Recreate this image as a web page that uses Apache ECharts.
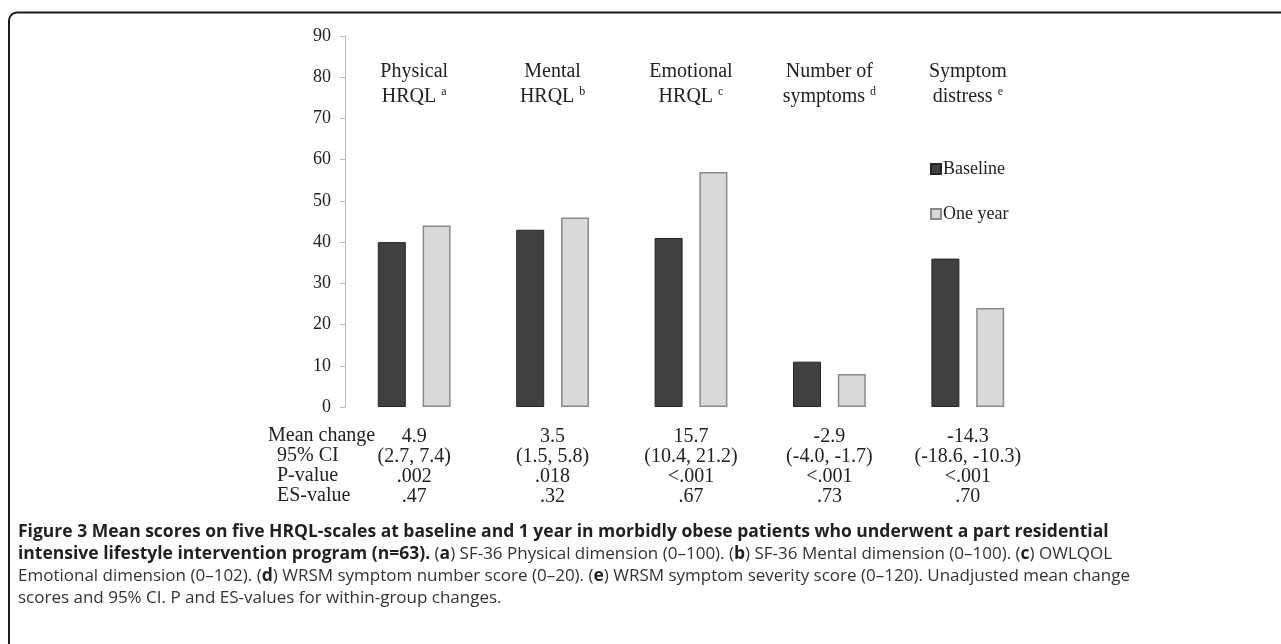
<!DOCTYPE html>
<html><head><meta charset="utf-8">
<script src="https://cdn.jsdelivr.net/npm/echarts@6/dist/echarts.min.js"></script>
<style>html,body{margin:0;padding:0;background:#fff}#c{width:1281px;height:644px}</style>
</head><body><div id="c"></div>
<script>
// ---- data ----
const categories = ['Physical HRQL', 'Mental HRQL', 'Emotional HRQL', 'Number of symptoms', 'Symptom distress'];
const categoryLine1 = ['Physical', 'Mental', 'Emotional', 'Number of', 'Symptom'];
const categoryLine2 = ['HRQL', 'HRQL', 'HRQL', 'symptoms', 'distress'];
const footnoteMarks = ['a', 'b', 'c', 'd', 'e'];
const seriesNames = ['Baseline', 'One year'];
const baseline = [40, 43, 41, 11, 36];
const oneYear = [44, 46, 57, 8, 24];
const rowHeaders = ['Mean change', '95% CI', 'P-value', 'ES-value'];
const meanChange = ['4.9', '3.5', '15.7', '-2.9', '-14.3'];
const ci95 = ['(2.7, 7.4)', '(1.5, 5.8)', '(10.4, 21.2)', '(-4.0, -1.7)', '(-18.6, -10.3)'];
const pValue = ['.002', '.018', '<.001', '<.001', '<.001'];
const esValue = ['.47', '.32', '.67', '.73', '.70'];
const yMin = 0, yMax = 90, yInterval = 10;

const serif = '"Liberation Serif", "Times New Roman", serif';
const sans = '"Open Sans", "Noto Sans", sans-serif';

const chart = echarts.init(document.getElementById('c'), null, {renderer: 'canvas'});

const capLines = [
  [['b', 'Figure 3 Mean scores on five HRQL-scales at baseline and 1 year in morbidly obese patients who underwent a part residential']],
  [['b', 'intensive lifestyle intervention program (n=63).'], ['n', ' ('], ['b', 'a'], ['n', ') SF-36 Physical dimension (0–100). ('], ['b', 'b'], ['n', ') SF-36 Mental dimension (0–100). ('], ['b', 'c'], ['n', ') OWLQOL']],
  [['n', 'Emotional dimension (0–102). ('], ['b', 'd'], ['n', ') WRSM symptom number score (0–20). ('], ['b', 'e'], ['n', ') WRSM symptom severity score (0–120). Unadjusted mean change']],
  [['n', 'scores and 95% CI. P and ES-values for within-group changes.']]
];
const capText = capLines.map(l => l.map(([s, t]) => '{' + s + '|' + t.replace(/[{}|]/g, '') + '}').join('')).join('\n');

const rowX = [268, 277, 277, 277];
const rowY = [437, 457, 477, 497];

chart.setOption({
  animation: false,
  backgroundColor: '#fff',
  grid: {left: 345, right: 244, top: 36, bottom: 237, containLabel: false},
  legend: {
    data: seriesNames,
    orient: 'vertical',
    left: 925, top: 155,
    itemWidth: 10, itemHeight: 10, itemGap: 27,
    icon: 'rect',
    textStyle: {fontFamily: serif, fontSize: 18, color: '#222', padding: [0, 0, 0, -3]}
  },
  xAxis: [{
    type: 'category',
    data: categories,
    axisLine: {show: false},
    axisTick: {show: false},
    axisLabel: {
      interval: 0,
      margin: 20,
      fontFamily: serif, fontSize: 20, color: '#222', lineHeight: 20,
      formatter: (v, i) => [meanChange[i], ci95[i], pValue[i], esValue[i]].join('\n')
    }
  }, {
    type: 'category',
    data: categories,
    position: 'top',
    offset: -77,
    axisLine: {show: false},
    axisTick: {show: false},
    axisLabel: {
      interval: 0,
      margin: 4,
      fontFamily: serif, fontSize: 20, color: '#222', lineHeight: 25,
      formatter: (v, i) => '{t|' + categoryLine1[i] + '}\n{t|' + categoryLine2[i] + ' }{s|' + footnoteMarks[i] + '}',
      rich: {
        t: {fontFamily: serif, fontSize: 20, color: '#222', lineHeight: 25},
        s: {fontFamily: serif, fontSize: 12, color: '#222', lineHeight: 25, padding: [0, 0, 9, 0]}
      }
    }
  }],
  yAxis: {
    type: 'value', min: yMin, max: yMax, interval: yInterval,
    axisLine: {show: true, lineStyle: {color: '#bdbdbd', width: 1}},
    axisTick: {show: true, inside: false, length: 5, lineStyle: {color: '#bdbdbd'}},
    splitLine: {show: false},
    axisLabel: {margin: 14, fontFamily: serif, fontSize: 18, color: '#222'}
  },
  series: [{
    name: seriesNames[0], type: 'bar', data: baseline, barWidth: 28, barGap: '60%',
    itemStyle: {color: '#404040', borderColor: '#262626', borderWidth: 1}
  }, {
    name: seriesNames[1], type: 'bar', data: oneYear, barWidth: 28, barGap: '60%',
    itemStyle: {color: '#d9d9d9', borderColor: '#8a8a8a', borderWidth: 1.5}
  }],
  graphic: [
    {type: 'rect', silent: true, shape: {x: 9, y: 12.5, width: 1400, height: 900, r: 8},
     style: {fill: 'none', stroke: '#1a1a1a', lineWidth: 2}},
    ...rowHeaders.map((h, i) => ({
      type: 'text', left: rowX[i], top: rowY[i] - 11,
      style: {text: h, fontFamily: serif, fontSize: 20, fill: '#222'}
    })),
    {type: 'text', left: 18, top: 521,
     style: {
       text: capText, lineHeight: 22,
       rich: {
         b: {fontFamily: sans, fontSize: 17.5, fontWeight: 'bold', fill: '#231f20', lineHeight: 22},
         n: {fontFamily: sans, fontSize: 17, fill: '#333', lineHeight: 22}
       }
     }}
  ]
});
</script></body></html>
